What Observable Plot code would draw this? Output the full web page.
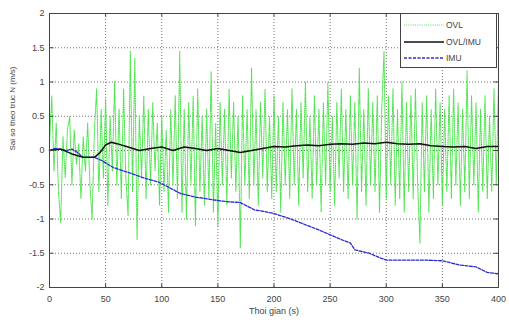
<!DOCTYPE html>
<html><head><meta charset="utf-8">
<script src="https://cdn.jsdelivr.net/npm/d3@7"></script>
<script src="https://cdn.jsdelivr.net/npm/@observablehq/plot@0.6"></script>
<style>
body{margin:0;background:#fff;font-family:"Liberation Sans",Arial,sans-serif}
#c{position:relative;width:509px;height:320px}
#lg{position:absolute;left:400px;top:13px;width:97px;height:55px;border:1px solid #444;background:#fff;box-sizing:border-box;font-size:8.5px;color:#444}
#lg .r{position:absolute;left:3px;height:10px;display:flex;align-items:center}
#lg svg{display:block}
#lg span{margin-left:2px}
</style></head><body><div id="c"><div id="lg"></div></div>
<script>
const xTicks = [0,50,100,150,200,250,300,350,400];
const yTicks = [-2,-1.5,-1,-0.5,0,0.5,1,1.5,2];
const ovlStep = 2;
const ovlValues = [
 0.1,0.8,-0.3,0.4,-0.6,-1.05,0.2,-0.4,0.3,0.5,
 -0.5,0.3,-0.2,0.1,-0.7,0.2,-0.3,0.4,-0.5,-1.0,
 0.3,0.9,-0.6,0.6,-0.4,0.75,-0.8,0.5,-0.3,1.0,
 -0.5,0.6,-0.7,0.9,-0.4,-0.95,1.45,-0.6,1.35,-1.3,
 0.5,-0.4,0.8,-0.7,0.6,-0.5,0.7,-0.3,0.4,-0.8,
 0.5,-0.6,0.3,-0.9,0.6,-0.5,0.8,-0.7,1.45,-0.9,
 0.6,-1.0,0.7,-0.5,0.8,-1.1,0.9,-0.6,0.5,-0.8,
 0.6,-0.7,1.15,-0.9,0.4,-1.1,0.7,-0.5,0.6,-0.8,
 0.9,-0.4,0.7,-0.6,0.5,-1.42,0.8,-0.5,0.6,-0.7,
 1.2,-0.5,0.6,-0.8,0.7,-0.4,0.9,-0.6,0.5,-0.7,
 0.8,-0.6,0.5,-0.9,0.7,-0.5,0.6,-0.7,0.9,-0.5,
 0.6,-0.8,0.7,-0.4,1.0,-0.6,0.5,-0.7,0.8,-0.5,
 0.6,-0.9,0.7,-0.5,1.0,-0.6,0.5,-0.8,0.7,-0.4,
 0.9,-0.6,0.6,-0.7,0.8,-0.5,0.7,-1.0,1.2,-0.6,
 0.6,-0.8,0.9,-0.5,0.7,-0.6,0.8,-0.9,0.6,1.45,
 -0.7,0.8,-0.5,0.9,-0.8,0.6,-0.7,1.0,-0.9,0.7,
 -0.6,0.8,-0.7,0.9,-0.5,-1.35,0.7,-0.6,0.8,-0.9,
 0.6,-0.7,0.9,-0.5,0.7,-0.8,0.6,-0.6,0.8,-0.7,
 0.9,-0.5,0.7,-0.8,0.6,-0.6,1.16,-0.7,0.8,-0.5,
 0.7,-0.9,0.6,-0.6,0.8,-0.7,0.5,-0.6,0.9,-0.5,
 0.97];
const mixTime = [0,10,20,30,40,45,50,55,60,70,80,90,100,110,120,130,140,150,160,170,180,190,200,210,220,230,240,250,260,270,280,290,300,310,320,330,340,350,360,370,380,390,400];
const mixValues = [0,0.02,-0.05,-0.1,-0.1,-0.03,0.08,0.12,0.1,0.05,0.0,0.03,0.05,0.0,0.05,0.03,0.0,0.03,0.0,-0.03,0.0,0.03,0.06,0.05,0.07,0.08,0.07,0.09,0.1,0.09,0.11,0.1,0.12,0.1,0.09,0.1,0.07,0.06,0.05,0.06,0.03,0.06,0.06];
const imuTime = [0,5,10,15,20,25,30,40,47,57,70,84,97,103,117,130,150,160,170,183,188,200,215,229,240,250,260,268,272,285,295,300,320,335,350,365,380,390,400];
const imuValues = [0,0.03,0.02,0.0,0.02,-0.03,-0.1,-0.1,-0.15,-0.25,-0.32,-0.4,-0.46,-0.51,-0.63,-0.68,-0.73,-0.75,-0.76,-0.87,-0.88,-0.92,-1.0,-1.09,-1.16,-1.23,-1.3,-1.35,-1.45,-1.5,-1.57,-1.6,-1.6,-1.6,-1.61,-1.67,-1.7,-1.78,-1.8];
const seriesNames = ["OVL","OVL/IMU","IMU"];

const ovlData = ovlValues.map((v,i)=>({t:i*ovlStep, v}));
const mixData = mixTime.map((t,i)=>({t, v:mixValues[i]}));
const imuData = imuTime.map((t,i)=>({t, v:imuValues[i]}));

const green = "#4fe44f", black = "#111", blue = "#2b2bd0";
const chart = Plot.plot({
  width:509, height:320,
  marginLeft:49, marginRight:11, marginTop:13, marginBottom:33,
  x:{domain:[0,400]}, y:{domain:[-2,2]},
  style:{fontSize:"9px", fontFamily:"'Liberation Sans',Arial,sans-serif", color:"#444", background:"#fff"},
  marks:[
    Plot.gridX(xTicks.slice(1,-1),{stroke:"#000", strokeOpacity:0.55, strokeDasharray:"1,2"}),
    Plot.gridY(yTicks.slice(1,-1),{stroke:"#000", strokeOpacity:0.55, strokeDasharray:"1,2"}),
    Plot.line(ovlData,{x:"t", y:"v", stroke:green, strokeWidth:1.1, strokeDasharray:"1,1.2"}),
    Plot.line(imuData,{x:"t", y:"v", stroke:blue, strokeWidth:1.3, strokeDasharray:"3,1.5"}),
    Plot.line(mixData,{x:"t", y:"v", stroke:black, strokeWidth:1.5}),
    Plot.ruleX(xTicks,{y1:-2, y2:-1.95, stroke:"#444"}),
    Plot.ruleX(xTicks,{y1:2, y2:1.95, stroke:"#444"}),
    Plot.ruleY(yTicks,{x1:0, x2:4, stroke:"#444"}),
    Plot.ruleY(yTicks,{x1:400, x2:396, stroke:"#444"}),
    Plot.axisX(xTicks,{tickSize:0, tickPadding:8, label:null, tickFormat:d=>String(d)}),
    Plot.axisY(yTicks,{tickSize:0, tickPadding:5, label:null, tickFormat:d=>String(d)}),
    Plot.frame({stroke:"#444"}),
    Plot.text(["Thoi gian (s)"],{frameAnchor:"bottom", dy:26, fontSize:9, fill:"#444"}),
    Plot.text(["Sai so theo truc N (m/s)"],{frameAnchor:"left", dx:-37, rotate:-90, fontSize:8, fill:"#444"})
  ]
});
document.getElementById("c").prepend(chart);

const lg = document.getElementById("lg");
const styles = [
  {stroke:green, dash:"1,1.2", w:1.1},
  {stroke:black, dash:null, w:1.5},
  {stroke:blue, dash:"3,1.5", w:1.3}
];
const ys = [6, 23, 39];
seriesNames.forEach((n,i)=>{
  const r = document.createElement("div");
  r.className = "r";
  r.style.top = (ys[i]) + "px";
  const s = styles[i];
  r.innerHTML = `<svg width="40" height="10"><line x1="0" y1="5" x2="40" y2="5" stroke="${s.stroke}" stroke-width="${s.w}" ${s.dash?`stroke-dasharray="${s.dash}"`:""}/></svg><span>${n}</span>`;
  lg.appendChild(r);
});
</script></body></html>
